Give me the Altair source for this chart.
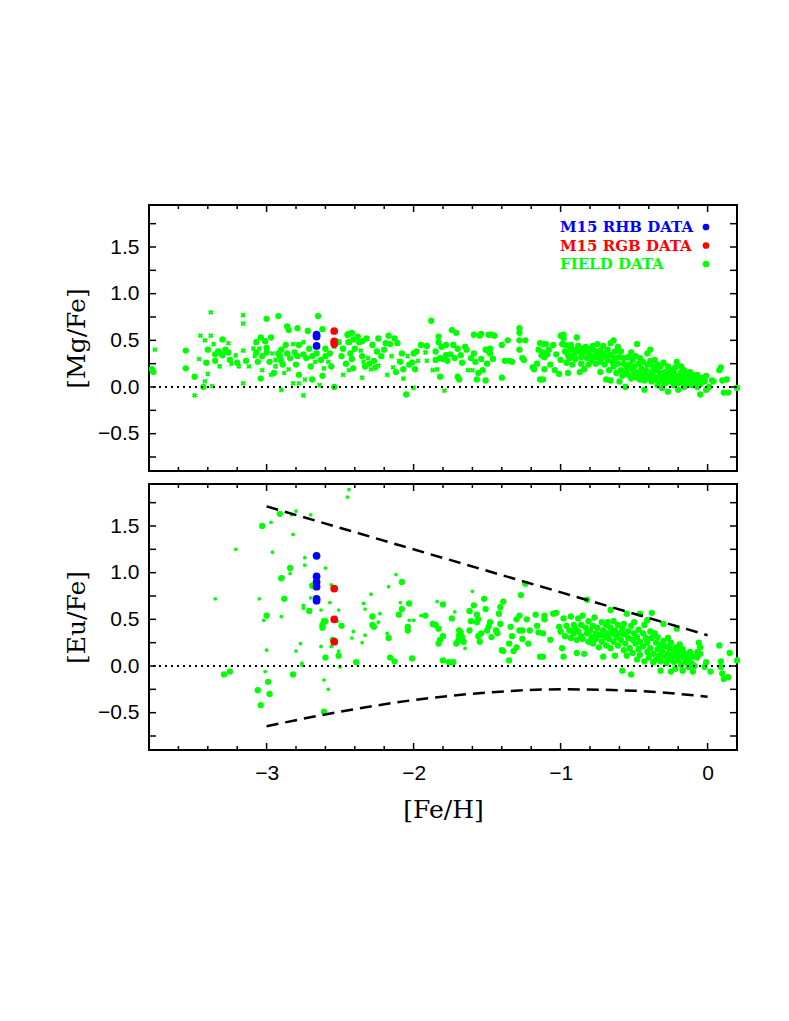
import altair as alt
import pandas as pd

# ---------------- data ----------------
# Top panel [Mg/Fe]: field stars, large circles
top_field_big = [
    (-3.78,0.19),(-3.77,0.16),(-3.55,0.39),(-3.55,0.20),(-3.49,0.11),(-3.43,0.0),(-3.40,0.40),(-3.41,0.26),
    (-3.35,0.28),(-3.35,0.35),(-3.33,0.38),(-3.32,0.37),(-3.30,0.51),(-3.30,0.34),(-3.28,0.40),(-3.26,0.37),
    (-3.25,0.29),(-3.20,0.26),(-3.14,0.28),(-3.07,0.37),(-3.07,0.48),(-3.06,0.27),(-3.04,0.53),(-3.04,0.09),
    (-3.03,0.33),(-3.01,0.49),(-3.00,0.37),(-3.00,0.42),(-3.00,0.73),(-2.98,0.27),(-2.97,0.53),(-2.95,0.15),
    (-2.92,0.76),(-2.92,0.36),(-2.91,0.33),(-2.90,0.40),(-2.90,0.28),(-2.89,0.24),(-2.87,0.45),(-2.86,0.65),
    (-2.86,0.36),(-2.85,0.61),(-2.84,0.31),(-2.81,0.37),(-2.80,0.24),(-2.79,0.63),(-2.79,0.33),(-2.78,0.13),
    (-2.78,0.45),(-2.75,0.35),(-2.73,0.31),(-2.72,0.60),(-2.71,0.41),(-2.70,0.22),(-2.69,0.08),(-2.69,0.33),
    (-2.66,0.36),(-2.65,0.76),(-2.63,0.29),(-2.62,0.62),(-2.62,0.12),(-2.60,0.41),(-2.60,0.33),(-2.57,0.36),
    (-2.56,0.22),(-2.54,0.0),(-2.51,0.48),(-2.49,0.33),(-2.48,0.41),(-2.46,0.25),(-2.45,0.56),(-2.44,0.48),
    (-2.44,0.57),(-2.43,0.36),(-2.42,0.58),(-2.41,0.51),(-2.40,0.41),(-2.42,0.30),(-2.41,0.20),(-2.38,0.54),
    (-2.37,0.48),(-2.35,0.49),(-2.35,0.33),(-2.33,0.22),(-2.32,0.52),(-2.30,0.25),(-2.28,0.45),(-2.27,0.28),
    (-2.26,0.21),(-2.25,0.38),(-2.24,0.52),(-2.22,0.33),(-2.20,0.40),(-2.19,0.47),(-2.17,0.55),(-2.16,0.46),
    (-2.13,0.52),(-2.12,0.16),(-2.11,0.47),(-2.09,0.27),(-2.08,0.36),(-2.07,0.19),(-2.05,-0.08),(-2.03,0.24),
    (-2.01,0.26),(-2.00,0.36),(-1.99,0.19),(-1.98,0.38),(-1.95,0.45),(-1.91,0.44),(-1.88,0.71),(-1.85,0.38),
    (-1.85,0.29),(-1.83,0.54),(-1.83,0.48),(-1.82,0.31),(-1.82,0.11),(-1.81,0.43),(-1.80,0.30),(-1.78,0.45),
    (-1.78,0.34),(-1.77,0.28),(-1.75,0.35),(-1.74,0.61),(-1.73,0.45),(-1.72,0.31),(-1.71,0.58),(-1.70,0.41),
    (-1.70,0.11),(-1.69,0.08),(-1.68,0.34),(-1.67,0.26),(-1.65,0.43),(-1.64,0.40),(-1.61,0.31),(-1.59,0.56),
    (-1.59,0.36),(-1.58,0.27),(-1.57,0.08),(-1.56,0.15),(-1.55,0.55),(-1.54,0.30),(-1.54,0.57),(-1.53,0.18),
    (-1.51,0.07),(-1.51,0.40),(-1.50,0.25),(-1.49,0.56),(-1.49,0.38),(-1.48,0.41),(-1.48,0.36),(-1.47,0.56),
    (-1.46,0.30),(-1.45,0.55),(-1.40,0.10),(-1.40,0.45),(-1.38,0.28),(-1.36,0.50),(-1.35,0.28),(-1.33,0.27),
    (-1.28,0.63),(-1.28,0.58),(-1.28,0.50),(-1.28,0.40),(-1.26,0.31),(-1.25,0.29),(-1.24,0.50),(-1.19,0.21),
    (-1.18,0.19),(-1.16,0.25),(-1.15,0.40),(-1.14,0.08),(-1.14,0.47),(-1.13,0.34),
    (-1.12,0.37),(-1.12,0.46),(-1.11,0.32),(-1.12,0.08),(-1.11,0.19),(-1.10,0.46),(-1.09,0.35),(-1.08,0.40),
    (-1.07,0.24),(-1.05,0.45),(-1.04,0.18),(-1.03,0.35),(-1.01,0.14),(-1.00,0.55),(-1.00,0.29),(-0.99,0.46),
    (-0.98,0.52),(-0.98,0.56),(-0.97,0.38),(-0.97,0.45),(-0.96,0.26),(-0.95,0.15),(-0.95,0.34),(-0.94,0.40),
    (-0.94,0.31),(-0.93,0.45),(-0.92,0.24),(-0.91,0.40),(-0.91,0.34),(-0.90,0.30),(-0.89,0.53),(-0.88,0.38),
    (-0.88,0.44),(-0.87,0.16),(-0.86,0.32),(-0.86,0.25),(-0.85,0.41),(-0.85,0.36),(-0.84,0.19),(-0.83,0.43),
    (-0.82,0.31),(-0.82,0.38),(-0.81,0.24),(-0.81,0.41),(-0.80,0.34),(-0.79,0.28),(-0.78,0.40),(-0.78,0.44),
    (-0.77,0.32),(-0.76,0.25),(-0.76,0.38),(-0.75,0.46),(-0.75,0.32),(-0.74,0.34),(-0.73,0.16),(-0.73,0.27),
    (-0.73,0.39),(-0.72,0.31),(-0.71,0.44),(-0.71,0.36),(-0.70,0.24),(-0.69,0.08),(-0.69,0.33),(-0.68,0.29),
    (-0.68,0.40),(-0.67,0.18),(-0.66,0.47),(-0.66,0.34),(-0.66,0.07),(-0.65,0.27),(-0.64,0.50),(-0.64,0.22),
    (-0.63,0.38),(-0.63,0.31),(-0.62,0.15),(-0.61,0.43),(-0.61,0.25),(-0.60,0.06),(-0.60,0.32),(-0.59,0.18),
    (-0.59,0.38),(-0.58,0.12),(-0.57,0.25),(-0.57,0.31),(-0.56,0.00),(-0.55,0.16),(-0.55,0.21),(-0.54,0.32),
    (-0.54,0.13),(-0.53,0.24),(-0.52,0.37),(-0.52,0.09),(-0.51,0.19),(-0.51,0.29),(-0.50,0.15),(-0.50,0.22),
    (-0.49,0.33),(-0.48,0.10),(-0.48,0.46),(-0.47,0.25),(-0.47,0.16),(-0.46,0.08),(-0.46,0.31),(-0.45,0.20),
    (-0.44,0.13),(-0.44,0.27),(-0.43,0.07),(-0.43,-0.03),(-0.42,0.18),(-0.41,0.36),(-0.41,0.12),(-0.41,0.24),
    (-0.40,0.09),(-0.39,0.28),(-0.39,0.40),(-0.38,0.16),(-0.38,0.06),(-0.37,0.22),(-0.37,0.12),(-0.36,0.29),
    (-0.35,0.08),(-0.35,0.18),(-0.34,0.02),(-0.34,0.24),(-0.33,0.11),(-0.32,0.15),(-0.32,0.07),(-0.32,0.22),
    (-0.31,-0.01),(-0.30,0.12),(-0.30,0.26),(-0.29,0.04),(-0.29,0.16),(-0.28,0.09),(-0.27,0.22),(-0.27,-0.05),
    (-0.26,0.14),(-0.26,0.06),(-0.25,0.18),(-0.24,0.10),(-0.23,0.02),(-0.23,0.15),(-0.23,0.07),(-0.22,0.21),
    (-0.21,0.12),(-0.21,0.27),(-0.20,0.04),(-0.20,-0.03),(-0.19,0.10),(-0.18,0.16),(-0.18,0.22),(-0.17,0.06),
    (-0.17,0.13),(-0.16,0.18),(-0.16,0.00),(-0.15,0.08),(-0.14,0.04),(-0.13,0.14),(-0.13,0.09),(-0.12,0.16),
    (-0.11,0.02),(-0.10,0.08),(-0.10,0.13),(-0.09,0.05),(-0.08,0.10),(-0.07,0.00),(-0.07,0.13),(-0.06,0.08),
    (-0.05,-0.08),(-0.05,0.03),(-0.04,0.10),(-0.02,0.06),(-0.01,-0.03),(-0.01,0.12),(0.01,0.00),(0.03,0.07),
    (0.04,0.06),(0.08,0.18),(0.09,0.21),(0.10,0.07),(0.11,-0.06),(0.13,0.08),(0.14,-0.06),(0.20,-0.01),
]
# Top panel: field stars, small crosses
top_field_small = [
    (-3.76,0.40),(-3.49,-0.09),(-3.46,0.30),(-3.45,0.55),(-3.42,0.06),(-3.42,0.50),(-3.40,0.14),(-3.38,0.80),
    (-3.38,0.55),(-3.37,0.01),(-3.36,0.46),(-3.32,0.22),(-3.26,0.47),(-3.24,0.25),(-3.21,0.34),(-3.19,0.22),
    (-3.16,0.04),(-3.16,0.39),(-3.16,0.77),(-3.16,0.68),(-3.12,0.22),(-3.09,0.41),(-3.08,0.33),(-3.05,0.41),
    (-3.03,0.18),(-2.97,0.13),(-2.96,0.36),(-2.94,0.29),(-2.94,0.22),(-2.90,-0.03),(-2.88,0.15),(-2.85,0.19),
    (-2.82,0.46),(-2.82,0.04),(-2.78,0.04),(-2.75,-0.09),(-2.75,0.48),(-2.74,0.08),(-2.67,0.27),(-2.64,0.02),
    (-2.61,0.20),(-2.58,0.27),(-2.54,0.43),(-2.48,0.13),(-2.45,0.48),(-2.44,0.18),(-2.36,0.39),(-2.35,0.10),
    (-2.34,0.27),(-2.31,0.31),(-2.29,0.19),(-2.24,0.23),(-2.18,0.13),(-2.15,0.33),(-2.14,0.21),(-2.10,0.28),
    (-2.07,0.09),(-2.04,0.33),(-2.00,-0.01),(-1.97,0.28),(-1.92,0.37),(-1.91,0.28),(-1.87,0.18),(-1.84,0.19),
    (-1.79,-0.04),(-1.63,0.18),(-1.60,0.18),
]
top_rhb = [(-2.66,0.56),(-2.66,0.54),(-2.66,0.44)]
top_rgb = [(-2.54,0.60),(-2.54,0.49),(-2.54,0.46)]

# Bottom panel [Eu/Fe]: field stars, large circles
bot_field_big = [
    (-3.29,-0.09),(-3.25,-0.06),(-3.03,1.50),(-3.00,0.54),(-2.99,-0.17),(-3.06,-0.26),(-2.98,-0.30),(-3.04,-0.42),
    (-2.91,1.63),(-2.90,0.94),(-2.88,0.72),(-2.84,1.05),(-2.82,-0.09),(-2.71,0.59),(-2.69,0.86),(-2.62,0.41),
    (-2.62,0.44),(-2.61,-0.49),(-2.61,0.48),(-2.60,0.48),(-2.60,0.09),(-2.55,0.28),(-2.51,0.11),(-2.49,0.43),
    (-2.39,0.04),(-2.28,0.53),(-2.28,0.44),(-2.27,0.42),(-2.17,0.30),(-2.16,0.09),(-2.13,0.05),(-2.08,0.90),
    (-2.10,0.55),(-2.08,0.61),(-2.03,0.67),(-2.04,0.38),(-2.04,0.42),(-2.01,0.08),(-1.92,0.54),(-1.87,0.45),
    (-1.85,0.44),(-1.83,0.40),(-1.83,0.24),(-1.82,0.28),(-1.80,0.66),(-1.80,0.32),(-1.80,0.06),(-1.76,0.04),
    (-1.74,0.51),(-1.73,0.04),(-1.71,0.24),(-1.70,0.26),(-1.69,0.38),(-1.69,0.33),(-1.69,0.29),(-1.68,0.36),
    (-1.67,0.31),(-1.66,0.26),(-1.62,0.59),(-1.62,0.38),(-1.61,0.48),(-1.59,0.65),(-1.57,0.55),(-1.57,0.47),
    (-1.56,0.32),(-1.56,0.50),(-1.55,0.26),(-1.54,0.35),(-1.52,0.72),(-1.51,0.61),(-1.50,0.38),(-1.49,0.42),
    (-1.48,0.47),(-1.47,0.31),(-1.44,0.38),(-1.43,0.35),(-1.42,0.56),(-1.41,0.45),(-1.41,0.63),(-1.40,0.17),
    (-1.39,0.69),(-1.39,0.16),(-1.35,0.24),(-1.35,0.06),(-1.34,0.42),(-1.33,0.32),(-1.32,0.16),(-1.30,0.20),
    (-1.30,0.50),(-1.28,0.38),(-1.28,0.54),(-1.27,0.76),(-1.26,0.38),(-1.26,0.29),(-1.24,0.88),(-1.23,0.50),
    (-1.22,0.24),(-1.21,0.38),(-1.17,0.55),(-1.16,0.43),(-1.15,0.36),(-1.14,0.10),(-1.11,0.50),
    (-1.11,0.54),(-1.12,0.35),(-1.12,0.10),(-1.07,0.28),(-1.05,0.56),(-1.03,0.57),(-1.01,0.42),(-1.00,0.37),
    (-0.99,0.19),(-0.98,0.51),(-0.98,0.10),(-0.97,0.32),(-0.96,0.43),(-0.94,0.38),(-0.93,0.53),(-0.93,0.30),
    (-0.91,0.44),(-0.91,0.35),(-0.90,0.40),(-0.89,0.28),(-0.89,0.14),(-0.88,0.51),(-0.88,0.37),(-0.86,0.32),
    (-0.86,0.44),(-0.85,0.54),(-0.85,0.29),(-0.84,0.13),(-0.83,0.41),(-0.82,0.71),(-0.82,0.35),(-0.81,0.48),
    (-0.81,0.26),(-0.80,0.38),(-0.79,0.31),(-0.78,0.43),(-0.78,0.24),(-0.77,0.52),(-0.76,0.35),(-0.76,0.29),
    (-0.75,0.41),(-0.74,0.20),(-0.73,0.33),(-0.72,0.47),(-0.72,0.26),(-0.71,0.10),(-0.71,0.38),(-0.70,0.31),
    (-0.69,0.44),(-0.69,0.22),(-0.68,0.35),(-0.68,0.47),(-0.67,0.29),(-0.66,0.41),(-0.66,0.19),(-0.66,0.60),
    (-0.65,0.35),(-0.64,0.48),(-0.64,0.26),(-0.63,0.11),(-0.63,0.38),(-0.62,0.31),(-0.61,0.44),(-0.61,0.22),
    (-0.60,0.35),(-0.59,0.28),(-0.58,-0.05),(-0.58,0.40),(-0.57,0.17),(-0.57,0.34),(-0.57,0.45),(-0.56,0.24),
    (-0.55,0.11),(-0.55,0.56),(-0.54,0.30),(-0.54,0.37),(-0.53,0.19),(-0.52,-0.09),(-0.52,0.43),(-0.51,0.28),
    (-0.51,0.14),(-0.50,0.35),(-0.50,0.47),(-0.49,0.24),(-0.48,0.07),(-0.48,0.31),(-0.47,0.39),(-0.47,0.18),
    (-0.46,0.56),(-0.46,0.26),(-0.46,0.12),(-0.44,0.35),(-0.44,0.21),(-0.43,0.05),(-0.43,0.44),(-0.42,0.30),
    (-0.41,0.15),(-0.41,0.49),(-0.41,0.25),(-0.40,0.09),(-0.39,0.37),(-0.39,0.19),(-0.38,0.57),(-0.38,0.30),
    (-0.37,0.04),(-0.37,0.13),(-0.36,0.35),(-0.35,0.25),(-0.35,0.07),(-0.34,0.18),(-0.34,0.31),(-0.33,0.11),
    (-0.32,0.22),(-0.32,-0.05),(-0.32,0.05),(-0.31,0.16),(-0.30,0.45),(-0.30,0.27),(-0.29,0.10),(-0.29,0.21),
    (-0.28,0.03),(-0.27,0.30),(-0.27,0.13),(-0.26,0.07),(-0.26,0.19),(-0.25,-0.06),(-0.25,0.25),(-0.24,0.10),
    (-0.23,0.15),(-0.23,0.04),(-0.22,0.20),(-0.22,-0.03),(-0.21,0.11),(-0.21,0.40),(-0.20,0.17),(-0.20,0.06),
    (-0.19,0.23),(-0.18,0.01),(-0.18,0.12),(-0.17,0.18),(-0.17,-0.05),(-0.16,0.09),(-0.16,0.14),(-0.15,0.04),
    (-0.14,0.11),(-0.13,-0.01),(-0.13,0.07),(-0.12,0.15),(-0.11,0.03),(-0.10,-0.06),(-0.10,0.10),(-0.09,0.00),
    (-0.07,0.09),(-0.07,0.15),(-0.06,0.25),(-0.05,0.20),(-0.05,0.13),(-0.02,-0.01),(-0.01,0.04),(0.02,-0.06),
    (0.08,0.22),(0.09,0.05),(0.09,-0.01),(0.10,-0.08),(0.11,-0.14),(0.15,0.14),(0.14,-0.12),(0.20,0.06),
]
# Bottom panel: field stars, small dots
bot_field_small = [
    (-3.35,0.72),(-3.21,1.25),(-3.05,0.72),(-3.02,0.49),(-3.00,0.17),(-3.01,-0.06),(-2.97,1.54),(-2.96,1.22),
    (-2.89,0.95),(-2.90,0.53),(-2.84,0.99),(-2.83,1.62),(-2.82,1.41),(-2.80,1.66),(-2.80,0.16),(-2.77,0.24),
    (-2.76,0.01),(-2.76,0.03),(-2.75,0.65),(-2.75,0.62),(-2.74,1.16),(-2.74,1.08),(-2.70,1.62),(-2.70,0.73),
    (-2.63,0.60),(-2.63,0.21),(-2.60,1.05),(-2.61,-0.15),(-2.58,-0.25),(-2.57,0.68),(-2.56,0.87),(-2.56,0.21),
    (-2.52,0.48),(-2.51,0.16),(-2.51,0.60),(-2.44,1.89),(-2.45,1.81),(-2.50,-0.01),
    (-2.41,0.37),(-2.42,0.30),(-2.35,0.25),(-2.34,0.67),(-2.33,0.33),(-2.33,0.61),(-2.29,0.77),(-2.24,0.47),
    (-2.23,0.56),(-2.18,0.35),(-2.17,0.85),(-2.12,0.98),(-2.09,0.68),(-2.03,0.49),(-2.00,0.49),(-1.95,0.54),
    (-1.84,0.69),(-1.72,0.58),(-1.65,0.19),(-1.60,0.80),
]
bot_rhb = [(-2.66,1.18),(-2.66,0.96),(-2.66,0.90),(-2.66,0.85),(-2.66,0.72),(-2.66,0.70)]
bot_rgb = [(-2.54,0.83),(-2.54,0.50),(-2.54,0.26)]

# Envelope curves in the [Eu/Fe] panel
upper_env = [(-3.0,1.71),(0.0,0.33)]
lower_env = [(-3.0,-0.645),(-2.5,-0.49),(-2.0,-0.365),(-1.5,-0.285),(-1.0,-0.25),(-0.5,-0.265),(0.0,-0.33)]

# Legend
legend_labels = ["M15 RHB DATA", "M15 RGB DATA", "FIELD DATA"]
legend_colors = ["#0000ff", "#ff0000", "#00ff00"]

# Tick positions
x_major = [-3, -2, -1, 0]
x_minor = [-3.8,-3.6,-3.4,-3.2,-2.8,-2.6,-2.4,-2.2,-1.8,-1.6,-1.4,-1.2,-0.8,-0.6,-0.4,-0.2,0.2]
y_ticks = [-0.75,-0.5,-0.25,0.0,0.25,0.5,0.75,1.0,1.25,1.5,1.75]
y_labels = [-0.5, 0.0, 0.5, 1.0, 1.5]

# ---------------- chart ----------------
W, H = 588, 266
GREEN, BLUE, RED = "#00ff00", "#0000ff", "#ff0000"
LFONT = "Liberation Sans"
TFONT = "DejaVu Serif"

def df(pairs):
    return pd.DataFrame(pairs, columns=["feh", "val"])

xs = alt.Scale(domain=[-3.8, 0.2], nice=False, zero=False)
ys = alt.Scale(domain=[-0.9, 1.95], nice=False, zero=False)


def panel(big, small, small_shape, small_size, rhb, rgb, ytitle, bottom_axis, extra, legend):
    if bottom_axis:
        xaxis = alt.Axis(values=x_major, format="d", ticks=False, domain=False, grid=False,
                         labelPadding=12, labelFontSize=21, labelFont=LFONT, labelColor="black",
                         title="[Fe/H]", titleFont=TFONT, titleFontSize=25, titleFontWeight="normal",
                         titleColor="black", titlePadding=14)
    else:
        xaxis = None
    yaxis = alt.Axis(values=y_labels, format=".1f", ticks=False, domain=False, grid=False,
                     labelPadding=10, labelFontSize=21, labelFont=LFONT, labelColor="black",
                     title=ytitle, titleFont=TFONT, titleFontSize=25, titleFontWeight="normal",
                     titleColor="black", titlePadding=8)
    X = alt.X("feh:Q", scale=xs, axis=xaxis, title="[Fe/H]" if bottom_axis else None)
    Y = alt.Y("val:Q", scale=ys, axis=yaxis, title=ytitle)

    layers = []
    layers.append(alt.Chart(df(big)).mark_circle(color=GREEN, opacity=1, size=40).encode(x=X, y=Y))
    sm = alt.Chart(df(small))
    if small_shape == "x":
        sm = sm.mark_point(shape="cross", angle=45, filled=True, color=GREEN, opacity=1, size=small_size)
    else:
        sm = sm.mark_circle(color=GREEN, opacity=1, size=small_size)
    layers.append(sm.encode(x=X, y=Y))
    layers.append(alt.Chart(pd.DataFrame({"val": [0.0]})).mark_rule(
        color="black", strokeDash=[2, 4], strokeWidth=2).encode(y=Y))
    layers += extra(X, Y)
    layers.append(alt.Chart(df(rhb)).mark_circle(color=BLUE, opacity=1, size=60).encode(x=X, y=Y))
    layers.append(alt.Chart(df(rgb)).mark_circle(color=RED, opacity=1, size=60).encode(x=X, y=Y))

    # inward ticks on all four sides
    tk = dict(color="black", strokeWidth=1.5)
    xmaj = pd.DataFrame({"feh": x_major})
    xmin = pd.DataFrame({"feh": x_minor})
    yt = pd.DataFrame({"val": y_ticks})
    layers.append(alt.Chart(xmaj).mark_rule(**tk).encode(x=X, y=alt.value(H), y2=alt.value(H - 7)))
    layers.append(alt.Chart(xmaj).mark_rule(**tk).encode(x=X, y=alt.value(0), y2=alt.value(7)))
    layers.append(alt.Chart(xmin).mark_rule(**tk).encode(x=X, y=alt.value(H), y2=alt.value(H - 4)))
    layers.append(alt.Chart(xmin).mark_rule(**tk).encode(x=X, y=alt.value(0), y2=alt.value(4)))
    layers.append(alt.Chart(yt).mark_rule(**tk).encode(y=Y, x=alt.value(0), x2=alt.value(7)))
    layers.append(alt.Chart(yt).mark_rule(**tk).encode(y=Y, x=alt.value(W), x2=alt.value(W - 7)))

    if legend:
        for i, (lab, col) in enumerate(zip(legend_labels, legend_colors)):
            ld = pd.DataFrame({"label": [lab]})
            layers.append(alt.Chart(ld).mark_text(
                align="left", baseline="middle", font=TFONT, fontSize=15, fontWeight="bold", color=col
            ).encode(x=alt.value(411), y=alt.value(22 + 18.5 * i), text="label:N"))
            layers.append(alt.Chart(ld).mark_circle(color=col, opacity=1, size=45).encode(
                x=alt.value(557), y=alt.value(22 + 18.5 * i)))

    return alt.layer(*layers).properties(width=W, height=H)


def no_extra(X, Y):
    return []


def envelopes(X, Y):
    return [
        alt.Chart(df(upper_env)).mark_line(color="black", strokeDash=[12, 7], strokeWidth=2.5).encode(x=X, y=Y),
        alt.Chart(df(lower_env)).mark_line(color="black", strokeDash=[12, 7], strokeWidth=2.5,
                                           interpolate="monotone").encode(x=X, y=Y),
    ]


top = panel(top_field_big, top_field_small, "x", 28, top_rhb, top_rgb, "[Mg/Fe]", False, no_extra, True)
bottom = panel(bot_field_big, bot_field_small, "o", 14, bot_rhb, bot_rgb, "[Eu/Fe]", True, envelopes, False)

chart = alt.vconcat(top, bottom, spacing=9).properties(
    padding={"left": 55, "top": 195, "right": 10, "bottom": 10},
    background="white",
).configure_view(stroke="black", strokeWidth=2)

chart.save("out.html", embed_options={"renderer": "svg", "actions": False})
